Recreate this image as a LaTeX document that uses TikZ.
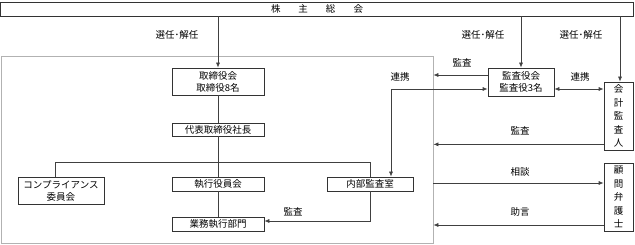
\documentclass[tikz,border=0pt]{standalone}
\usepackage{fontspec}
\setmainfont{Noto Sans CJK JP}
\usetikzlibrary{arrows.meta}

\begin{document}
\begin{tikzpicture}[x=1pt,y=-1pt,
  font=\fontsize{9.5}{12}\selectfont,
  box/.style={draw=black!80,line width=0.7pt,inner sep=0pt,align=center},
  tate/.style={box,minimum width=29pt,minimum height=68pt,font=\fontsize{9.5}{13.5}\selectfont},
  ln/.style={draw=black!75,line width=0.7pt},
  arr/.style={ln,-{Latex[length=5pt,width=4pt]}},
  arrs/.style={ln,{Latex[length=5pt,width=4pt]}-{Latex[length=5pt,width=4pt]}}]
  \useasboundingbox (0,0) rectangle (635,245);

  % shareholders and the company frame
  \node[box,minimum width=633pt,minimum height=14pt] (soukai) at (317,9)
    {株\hspace{18pt}主\hspace{18pt}総\hspace{18pt}会};
  \node[draw=black!30,line width=0.7pt,minimum width=432pt,minimum height=187pt,inner sep=0pt] (frame) at (217,149.5) {};

  % boxes
  \node[box,minimum width=92pt,minimum height=27pt] (torishimari) at (218,81.5) {取締役会\\取締役8名};
  \node[box,minimum width=92pt,minimum height=13pt] (daihyo) at (218,129.5) {代表取締役社長};
  \node[box,minimum width=92pt,minimum height=14pt] (shikkou) at (218,184) {執行役員会};
  \node[box,minimum width=92pt,minimum height=14pt] (gyomu) at (218,224) {業務執行部門};
  \node[box,minimum width=86pt,minimum height=27pt] (comp) at (61,190.5) {コンプライアンス\\委員会};
  \node[box,minimum width=86pt,minimum height=14pt] (naibu) at (370,184) {内部監査室};
  \node[box,minimum width=66pt,minimum height=28pt] (kansayaku) at (521,82) {監査役会\\監査役3名};
  \node[tate] (kaikei) at (618.5,116) {会\\計\\監\\査\\人};
  \node[tate] (komon) at (618.5,197) {顧\\問\\弁\\護\\士};

  % appointment
  \draw[arr] (torishimari.north |- soukai.south) -- (torishimari.north);
  \draw[arr] (kansayaku.north |- soukai.south) -- (kansayaku.north);
  \draw[arr] ([xshift=1.5pt]kaikei.north |- soukai.south) -- ([xshift=1.5pt]kaikei.north);
  \node (sennin1) at (177,35) {選任･解任};
  \node (sennin2) at (483,35) {選任･解任};
  \node (sennin3) at (581,35) {選任･解任};

  % organisation tree
  \draw[ln] (torishimari) -- (daihyo);
  \draw[ln] (daihyo) -- (shikkou);
  \draw[ln] (shikkou) -- (gyomu);
  \draw[ln] ([xshift=-6pt]comp.north) |- ([yshift=14pt]naibu.north) -- (naibu.north);
  \draw[arr] (naibu.south) |- ([yshift=3pt]gyomu.east);
  \node (kansa1) at (293,212) {監査};

  % audit and cooperation
  \draw[arr] ([yshift=7pt]kansayaku.west) -- ([yshift=7pt]kansayaku.west -| frame.east);
  \node (kansa2) at (462,63) {監査};
  \node (renkei1) at (400,77) {連携};
  \draw[arrs] ([yshift=-7pt]kansayaku.west) -| ([xshift=21pt]naibu.north);
  \draw[arrs] ([yshift=-7pt]kansayaku.east) -- ([yshift=-7pt]kansayaku.east -| kaikei.west);
  \node (renkei2) at (580,77) {連携};
  \draw[arr] ([yshift=6pt]kaikei.south west) -- ([yshift=6pt]kaikei.south west -| frame.east);
  \node (kansa3) at (520,131) {監査};

  % counsel
  \draw[arr] ([yshift=14pt]komon.west -| frame.east) -- ([yshift=14pt]komon.west);
  \node (soudan) at (520,172) {相談};
  \draw[arr] ([yshift=-28pt]komon.west) -- ([yshift=-28pt]komon.west -| frame.east);
  \node (jogen) at (520,212) {助言};
\end{tikzpicture}
\end{document}
